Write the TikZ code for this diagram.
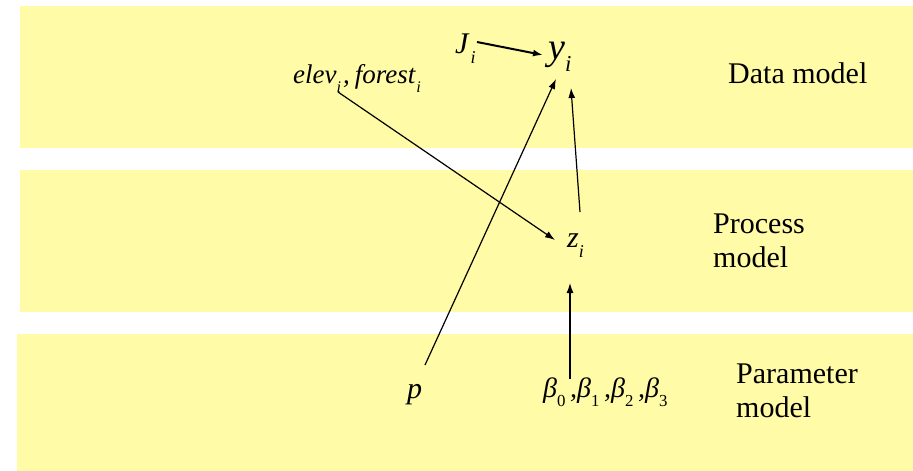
\documentclass[tikz,border=0pt]{standalone}
\usepackage{fontspec}
\setmainfont{Liberation Serif}
\usetikzlibrary{arrows.meta,calc}
\definecolor{bandyellow}{RGB}{255,251,166}
% subindice bajo, estilo editor de ecuaciones
\newcommand{\vsub}[1]{\raisebox{-0.34em}{\scalebox{0.6}{#1}}}
\tikzset{
  band/.style={fill=bandyellow, draw=none},
  var/.style={inner sep=0pt, anchor=base west, font=\itshape\fontsize{30}{34}\selectfont},
  lvl/.style={inner sep=0pt, anchor=base west, align=left, font=\fontsize{30}{34}\selectfont},
  arr/.style={-{Latex[length=10pt,width=7pt]}, line width=1.2pt}
}
\begin{document}
\begin{tikzpicture}[x=1pt,y=-1pt]
    \useasboundingbox (0,0) rectangle (913,471);
    % Bandas
    \fill[band] (20,6) rectangle (913,148);
    \fill[band] (20,170) rectangle (913,312);
    \fill[band] (17,334) rectangle (913,471);
    % Niveles (base = ultima linea)
    \node[lvl] (datamod) at (728,83) {Data model};
    \node[lvl] (procmod) at (713,267) {Process\\model};
    \node[lvl] (parmod) at (736,417) {Parameter\\model};
    % Variables
    \node[var] (J) at (455,53) {J\kern2pt\vsub{i}};
    \node[var, font=\itshape\fontsize{38}{40}\selectfont] (y) at (548,59) {y\vsub{i}};
    \node[var, font=\itshape\fontsize{27}{30}\selectfont] (elev) at (293,83)
        {elev\vsub{i}\kern2pt,\kern5pt forest\kern1pt\vsub{i}};
    \node[var] (z) at (567,247) {z\vsub{i}};
    \node[var] (p) at (407,398) {p};
    \node[var, font=\itshape\fontsize{28}{32}\selectfont] (beta) at (543,397)
        {β\vsub{\upshape 0}\,,β\vsub{\upshape 1}\,,β\vsub{\upshape 2}\,,β\vsub{\upshape 3}};
    % Flechas
    \draw[arr, line width=2pt] ($(J.base west)+(22,-11)$) -- ($(y.base west)+(-5,-4)$);
    \draw[arr] ($(elev.base west)+(45,9)$) -- ($(z.base west)+(-12,-7)$);
    \draw[arr] ($(p.base west)+(18,-33)$) -- ($(y.base west)+(8,20)$);
    \draw[arr] ($(z.base west)+(13,-35)$) -- ($(y.base west)+(23,29)$);
    \draw[arr] ($(beta.base west)+(27,-18)$) -- ($(z.base west)+(3,36)$);
\end{tikzpicture}
\end{document}
